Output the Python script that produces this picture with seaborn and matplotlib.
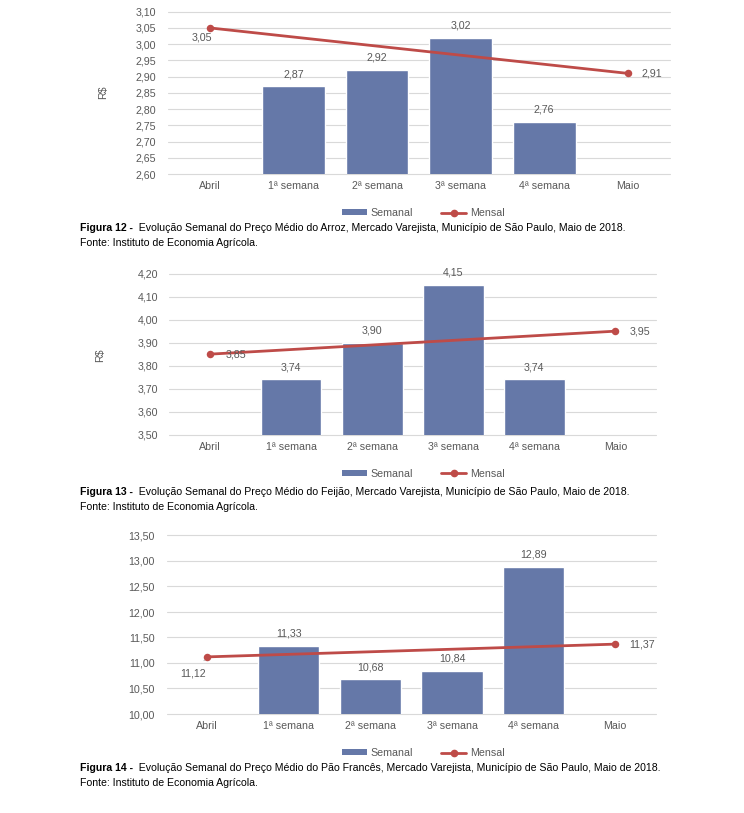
import numpy as np
import pandas as pd
import matplotlib
matplotlib.use("Agg")
import matplotlib.pyplot as plt
import matplotlib.transforms as mtransforms
from matplotlib.patches import Patch
from matplotlib.lines import Line2D
from matplotlib.ticker import FuncFormatter, MultipleLocator
import seaborn as sns

# ---------------- data ----------------
categories = ["Abril", "1ª semana", "2ª semana", "3ª semana", "4ª semana", "Maio"]
weeks = ["1ª semana", "2ª semana", "3ª semana", "4ª semana"]
months = ["Abril", "Maio"]

arroz_semanal = [2.87, 2.92, 3.02, 2.76]
arroz_mensal = [3.05, 2.91]
feijao_semanal = [3.74, 3.90, 4.15, 3.74]
feijao_mensal = [3.85, 3.95]
pao_semanal = [11.33, 10.68, 10.84, 12.89]
pao_mensal = [11.12, 11.37]

fig_nums = ["Figura 12 -", "Figura 13 -", "Figura 14 -"]
captions = [
    "Evolução Semanal do Preço Médio do Arroz, Mercado Varejista, Município de São Paulo, Maio de 2018.",
    "Evolução Semanal do Preço Médio do Feijão, Mercado Varejista, Município de São Paulo, Maio de 2018.",
    "Evolução Semanal do Preço Médio do Pão Francês, Mercado Varejista, Município de São Paulo, Maio de 2018.",
]
fonte = "Fonte: Instituto de Economia Agrícola."
ylabel_text = "R$"
legend_labels = ["Semanal", "Mensal"]

# ---------------- style ----------------
sns.set_style("white")
plt.rcParams["font.family"] = ["Liberation Sans", "DejaVu Sans"]

W, H = 744, 813
BAR = "#6578A8"
LINE = "#BE4B48"
TXT = "#595959"
GRID = "#D9D9D9"
FS = 7.7
CFS = 7.57

fig = plt.figure(figsize=(W / 100, H / 100), dpi=100)
fig.patch.set_facecolor("white")
px = mtransforms.Affine2D().scale(1 / W, -1 / H).translate(0, 1) + fig.transFigure


def fmt(v):
    return f"{v:.2f}".replace(".", ",")


panels = [
    dict(sem=arroz_semanal, men=arroz_mensal, box=(168.2, 11.7, 669.5, 174.0),
         ylim=(2.60, 3.10), step=0.05, ylab=(103, 92), ytpad=8.6,
         mlab=[(-6, -7, None), (17.5, 0, None)], cap=228),
    dict(sem=feijao_semanal, men=feijao_mensal, box=(169.4, 273.7, 656.0, 434.6),
         ylim=(3.50, 4.20), step=0.10, ylab=(100, 355), ytpad=8.3,
         mlab=[(18.7, 0, None), (17.5, 0, None)], cap=492),
    dict(sem=pao_semanal, men=pao_mensal, box=(166.5, 535.5, 656.0, 714.0),
         ylim=(10.0, 13.5), step=0.50, ylab=None, ytpad=8.3,
         mlab=[(-10.3, -11.7, True), (19.2, 0, None)], cap=768),
]

for k, p in enumerate(panels):
    l, t, r, b = p["box"]
    ax = fig.add_axes([l / W, 1 - b / H, (r - l) / W, (b - t) / H])
    df_bar = pd.DataFrame({"cat": weeks, "val": p["sem"]})
    df_line = pd.DataFrame({"pos": [categories.index(m) for m in months],
                            "val": p["men"]})
    sns.barplot(data=df_bar, x="cat", y="val", order=categories, color=BAR,
                saturation=1, width=0.75, ax=ax, errorbar=None, zorder=2)
    sns.lineplot(data=df_line, x="pos", y="val", color=LINE, marker="o",
                 markersize=5.4, markeredgewidth=0, linewidth=2.0, ax=ax,
                 zorder=4, legend=False)
    ax.set_xticks(range(len(categories)))
    ax.set_xticklabels(categories)
    ax.set_xlim(-0.5, len(categories) - 0.5)
    ax.set_ylim(*p["ylim"])
    ax.yaxis.set_major_locator(MultipleLocator(p["step"]))
    ax.yaxis.set_major_formatter(FuncFormatter(lambda v, pos: fmt(v)))
    ax.set_axisbelow(True)
    ax.grid(axis="y", color=GRID, linewidth=0.8)
    ax.grid(axis="x", visible=False)
    for gl in ax.get_ygridlines():
        gl.set_clip_on(False)
    for s in ax.spines.values():
        s.set_visible(False)
    ax.tick_params(axis="both", length=0, labelsize=FS, colors=TXT)
    ax.tick_params(axis="x", pad=5)
    ax.tick_params(axis="y", pad=p["ytpad"])
    ax.set_xlabel("")
    ax.set_ylabel("")
    if p["ylab"] is not None:
        fig.text(p["ylab"][0], p["ylab"][1], ylabel_text, transform=px, rotation=90,
                 ha="center", va="center", fontsize=FS, color=TXT)

    # bar labels
    for cat, v in zip(weeks, p["sem"]):
        i = categories.index(cat)
        ax.annotate(fmt(v), xy=(i, v), xytext=(0, 8.8), textcoords="offset points",
                    ha="center", va="center", fontsize=FS, color=TXT)
    # line labels
    for (cat, v), (dx, dy, leader) in zip(zip(months, p["men"]), p["mlab"]):
        i = categories.index(cat)
        kw = dict(xy=(i, v), xytext=(dx, dy), textcoords="offset points",
                  ha="center", va="center", fontsize=FS, color=TXT, zorder=5)
        if leader:
            kw["arrowprops"] = dict(arrowstyle="-", color="#A6A6A6", lw=0.6,
                                    shrinkA=4, shrinkB=3)
        ax.annotate(fmt(v), **kw)

    # legend
    handles = [Patch(facecolor=BAR, edgecolor="none"),
               Line2D([0], [0], color=LINE, lw=2.0, marker="o", markersize=4.5)]
    fig.legend(handles, legend_labels, loc="center", bbox_to_anchor=(423, b + 39),
               bbox_transform=px, ncol=2, frameon=False, fontsize=FS,
               handlelength=2.4, handleheight=0.5, handletextpad=0.3,
               columnspacing=2.6, labelcolor=TXT)

    # caption
    cy = p["cap"]
    bt = fig.text(80, cy, fig_nums[k], transform=px, ha="left", va="center",
                  fontsize=CFS, fontweight="bold", color="black")
    ax.annotate("  " + captions[k], xy=(1, 0.5), xycoords=bt, ha="left", va="center",
                fontsize=CFS, color="black", annotation_clip=False)
    fig.text(80, cy + 15, fonte, transform=px, ha="left", va="center",
             fontsize=CFS, color="black")

fig.savefig("out.png", dpi=100, facecolor="white")
